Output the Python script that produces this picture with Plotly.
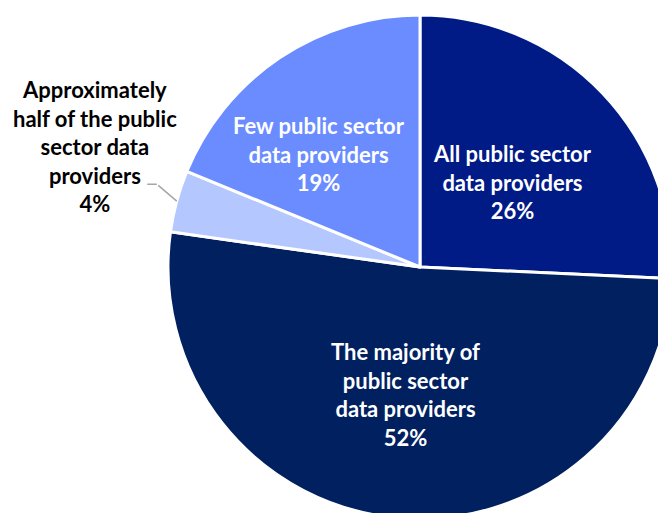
import math
import plotly.graph_objects as go

labels = ["All public sector<br>data providers",
          "The majority of<br>public sector<br>data providers",
          "Approximately<br>half of the public<br>sector data<br>providers",
          "Few public sector<br>data providers"]
values = [26, 52, 4, 19]
colors = ["#001A86", "#002060", "#B4C7FF", "#6A8CFF"]

OFF = 8  # page body margin
W, H = 690, 540
cx, cy, R = 420 - OFF, 267 - OFF, 252

fig = go.Figure(go.Pie(
    labels=labels, values=values, sort=False, direction="clockwise", rotation=0,
    marker=dict(colors=colors, line=dict(color="white", width=3)),
    textinfo="none",
    hoverinfo="skip",
    domain=dict(x=[(cx - R) / W, (cx + R) / W], y=[(H - cy - R) / H, (H - cy + R) / H]),
    showlegend=False,
))

total = sum(values)
FONT = "Lato"
SIZE = 22
# label placement: radius fraction and angle nudge (degrees) from slice mid angle
rfrac = [0.50, 0.51, None, 0.60]
nudge = [1, 1, 0, -8]
cum = 0
for lab, v, rf, dg in zip(labels, values, rfrac, nudge):
    mid = (cum + v / 2) / total * 2 * math.pi + math.radians(dg)
    cum += v
    if rf is None:
        # leader line (two segments) to the small slice
        tx = cx + R * math.sin(mid)
        ty = cy - R * math.cos(mid)
        ex, ey = tx - 20, ty - 17
        fig.add_annotation(
            x=tx / W, y=1 - ty / H, xref="paper", yref="paper", text="",
            showarrow=True, arrowhead=0, arrowcolor="#A6A6A6", arrowwidth=1.5,
            ax=ex - tx, ay=ey - ty,
        )
        fig.add_annotation(
            x=ex / W, y=1 - ey / H, xref="paper", yref="paper", text="",
            showarrow=True, arrowhead=0, arrowcolor="#A6A6A6", arrowwidth=1.5,
            ax=-11, ay=0,
        )
        fig.add_annotation(
            x=(95 - OFF) / W, y=1 - (146 - OFF) / H, xref="paper", yref="paper",
            text="<b>" + lab + "<br>" + f"{v}%</b>",
            showarrow=False, xanchor="center", yanchor="middle",
            font=dict(family=FONT, size=SIZE, color="black"),
        )
        continue
    px = cx + rf * R * math.sin(mid)
    py = cy - rf * R * math.cos(mid)
    fig.add_annotation(
        x=px / W, y=1 - py / H, xref="paper", yref="paper",
        text="<b>" + lab + "<br>" + f"{v}%</b>",
        showarrow=False, xanchor="center", yanchor="middle",
        font=dict(family=FONT, size=SIZE, color="white"),
    )

fig.update_layout(width=W, height=H, margin=dict(l=0, r=0, t=0, b=0),
                  paper_bgcolor="white", plot_bgcolor="white")
fig.write_html("out.html")
